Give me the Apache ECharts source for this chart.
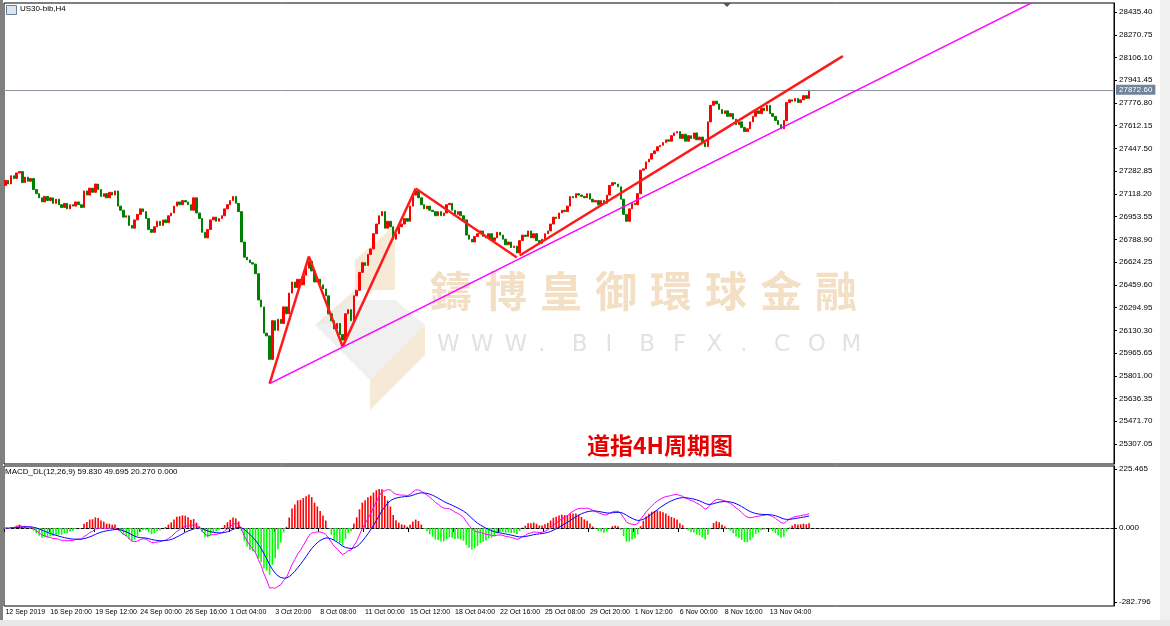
<!DOCTYPE html>
<html><head><meta charset="utf-8">
<script src="https://cdn.jsdelivr.net/npm/echarts@6/dist/echarts.min.js"></script>
<style>html,body{margin:0;padding:0;background:#fff}#c{width:1170px;height:626px}</style>
</head><body><div id="c"></div>
<script>
// ---- data ----
const firstOpen = 27180;
const closes = [27216,27190,27250,27230,27270,27280,27200,27240,27210,27230,
27150,27120,27090,27060,27100,27070,27090,27050,27080,27040,
27020,27050,27010,27040,27030,27060,27040,27020,27140,27110,
27160,27130,27190,27150,27100,27120,27090,27130,27110,27140,
27030,27000,26950,26960,26890,26870,26930,26970,27010,26990,
26940,26860,26840,26880,26920,26890,26930,26910,26960,26980,
27030,27060,27040,27070,27060,27040,27000,27090,26980,26940,
26840,26800,26860,26930,26950,26920,26940,26960,27010,27040,
27070,27100,27050,26990,26770,26660,26640,26620,26610,26540,
26350,26300,26110,26090,25920,26200,26130,26210,26180,26300,
26250,26400,26480,26440,26500,26460,26530,26580,26630,26560,
26480,26500,26460,26430,26380,26250,26200,26140,26180,26100,
26060,26250,26280,26200,26380,26420,26550,26620,26600,26680,
26720,26830,26900,26960,26990,26870,26920,26880,26790,26830,
26880,26900,26940,26920,27030,27110,27140,27090,27040,27010,
27030,27000,26990,26960,26990,26960,26980,27040,27050,27000,
26970,26990,26960,26930,26820,26790,26770,26810,26830,26850,
26810,26800,26830,26780,26800,26840,26820,26790,26750,26770,
26730,26740,26690,26780,26820,26810,26850,26800,26830,26780,
26760,26790,26830,26850,26900,26950,26940,26980,27000,26990,
27030,27100,27090,27120,27110,27100,27090,27120,27080,27060,
27070,27040,27070,27050,27110,27180,27200,27190,27170,27080,
26970,26920,27010,27050,27040,27120,27290,27300,27350,27370,
27410,27430,27460,27470,27490,27510,27500,27540,27560,27570,
27520,27550,27500,27540,27520,27560,27510,27530,27490,27460,
27640,27760,27790,27770,27730,27700,27720,27680,27700,27660,
27620,27640,27600,27570,27590,27640,27680,27720,27700,27740,
27720,27760,27700,27680,27650,27620,27590,27650,27780,27800,
27790,27810,27780,27800,27830,27810,27870];
const totalSlots = 395;
const dateLabels = ['12 Sep 2019','16 Sep 20:00','19 Sep 12:00','24 Sep 00:00','26 Sep 16:00','1 Oct 04:00','3 Oct 20:00','8 Oct 08:00','11 Oct 00:00','15 Oct 12:00','18 Oct 04:00','22 Oct 16:00','25 Oct 08:00','29 Oct 20:00','1 Nov 12:00','6 Nov 00:00','8 Nov 16:00','13 Nov 04:00'];
const priceTicks = [28435.40,28270.75,28106.10,27941.45,27776.80,27612.15,27447.50,27282.85,27118.20,26953.55,26788.90,26624.25,26459.60,26294.95,26130.30,25965.65,25801.00,25636.35,25471.70,25307.05];
const macdTicks = [225.465,0,-282.796];
const currentPrice = 27872.60;
const watermarkCn = '鑄博皇御環球金融';
const watermarkEn = 'WWW.BIBFX.COM';
// trendlines as [bar index, price]
const zigzag = [[94.3,25744],[107.8,26665],[120.3,26012],[145.9,27158],[181.9,26658]];
const redChannel = [[183.3,26672],[298.2,28116]];
const magentaLine = [[94.3,25744],[364.8,28500]];

// ---- build ----
const cats = [];
for (let i=0;i<totalSlots;i++) cats.push(i%16===0 && dateLabels[i/16] ? dateLabels[i/16] : '');
const ohlc = closes.map((c,i)=>{const o=i?closes[i-1]:firstOpen;return [o,c,Math.min(o,c),Math.max(o,c)];});
function ema(arr,n){const k=2/(n+1);const out=[];arr.forEach((v,i)=>out.push(i?out[i-1]+k*(v-out[i-1]):v));return out;}
const e12=ema(closes,12), e26=ema(closes,26);
const dif=e12.map((v,i)=>v-e26[i]);
const dea=ema(dif,9);
const hist=dif.map((v,i)=>2*(v-dea[i]));
function seg(pts){return pts.slice(1).map((p,i)=>[{coord:pts[i]},{coord:p}]);}

const font='Liberation Sans';
const wm=[];
[...watermarkCn].forEach((ch,k)=>wm.push({type:'text',z:-1,left:430+k*55,top:270,style:{text:ch,font:'bold 42px "Noto Sans CJK TC"',fill:'#f3dfc4'}}));
[...watermarkEn].forEach((ch,k)=>wm.push({type:'text',z:-1,left:437+k*33.7,top:334,style:{text:ch,font:'23px "DejaVu Sans"',fill:'#e2e2e2'}}));
const chart=echarts.init(document.getElementById('c'));
chart.setOption({
 animation:false,
 grid:[{left:4,right:56,top:3,height:461,show:true,borderColor:'#000',borderWidth:1},
       {left:4,right:56,top:466,height:140,show:true,borderColor:'#000',borderWidth:1}],
 xAxis:[{type:'category',data:cats,gridIndex:0,boundaryGap:true,axisLine:{show:false},axisTick:{show:false},axisLabel:{show:false},splitLine:{show:false}},
        {type:'category',data:cats,gridIndex:1,boundaryGap:true,position:'bottom',
         axisLine:{show:true,lineStyle:{color:'#000'}},
         axisTick:{show:true,interval:(i)=>i%16===0&&i<288,length:4,lineStyle:{color:'#000'}},
         axisLabel:{interval:(i)=>i%16===0,showMinLabel:true,hideOverlap:false,align:'left',margin:3,fontSize:7,fontFamily:font,color:'#000'},splitLine:{show:false}}],
 yAxis:[{type:'value',gridIndex:0,position:'right',min:25162,max:28501,
         axisLine:{show:true,lineStyle:{color:'#000'}},
         axisTick:{show:true,customValues:priceTicks,length:3,lineStyle:{color:'#000'}},
         axisLabel:{customValues:priceTicks,fontSize:8,fontFamily:font,color:'#000',margin:5,formatter:v=>v.toFixed(2)},
         splitLine:{show:false}},
        {type:'value',gridIndex:1,position:'right',min:-298,max:237,
         axisLine:{show:true,lineStyle:{color:'#000'}},
         axisTick:{show:true,customValues:macdTicks,length:3,lineStyle:{color:'#000'}},
         axisLabel:{customValues:macdTicks,fontSize:8,fontFamily:font,color:'#000',margin:5,formatter:v=>v.toFixed(3)},
         splitLine:{show:false}}],
 series:[
  {type:'candlestick',xAxisIndex:0,yAxisIndex:0,data:ohlc,barWidth:2,
   itemStyle:{color:'#ff0000',color0:'#008000',borderColor:'#ff0000',borderColor0:'#008000',borderWidth:1},
   markLine:{symbol:'none',silent:true,animation:false,
     data:[{yAxis:currentPrice,lineStyle:{color:'#8a949e',width:1,type:'solid'},
            label:{show:true,position:'end',formatter:currentPrice.toFixed(2),backgroundColor:'#6f8399',color:'#fff',fontSize:8,fontFamily:font,padding:[1,3],distance:2}},
       ...seg(zigzag).map(d=>{d[0].lineStyle={color:'#ff1a1a',width:2.5,type:'solid'};d[0].label={show:false};return d;}),
       ...seg(redChannel).map(d=>{d[0].lineStyle={color:'#ff1a1a',width:2.5,type:'solid'};d[0].label={show:false};return d;}),
       ...seg(magentaLine).map(d=>{d[0].lineStyle={color:'#ff00ff',width:1.6,type:'solid'};d[0].label={show:false};return d;})
     ]}},
  {type:'bar',xAxisIndex:1,yAxisIndex:1,data:hist.map(v=>({value:v,itemStyle:{color:v>=0?'#ff0000':'#00ff00'}})),barWidth:1.6,
   markLine:{symbol:'none',silent:true,data:[{yAxis:0}],lineStyle:{color:'#888',type:[2,3],width:1},label:{show:false}}},
  {type:'line',xAxisIndex:1,yAxisIndex:1,data:dif,showSymbol:false,lineStyle:{color:'#ff00ff',width:1}},
  {type:'line',xAxisIndex:1,yAxisIndex:1,data:dea,showSymbol:false,lineStyle:{color:'#0000ff',width:1}}
 ],
 graphic:[
  {type:'rect',left:0,top:0,shape:{width:3,height:626},style:{fill:'#808080'}},
  {type:'rect',left:6,top:5,shape:{width:10,height:9},style:{fill:'#dde6f0',stroke:'#6a7f96'}},
  {type:'text',left:20,top:5,style:{text:'US30-bib,H4',font:'8px Liberation Sans',fill:'#000'}},
  {type:'polygon',shape:{points:[[723,3],[731,3],[727,7]]},style:{fill:'#555'}},
  {type:'text',left:5,top:468,style:{text:'MACD_DL(12,26,9) 59.830 49.695 20.270 0.000',font:'8px Liberation Sans',fill:'#000'}},
  {type:'polygon',z:-1,shape:{points:[[315,325],[355,290],[395,290],[395,225],[355,260],[355,320]]},style:{fill:'#f6ead7'}},
  {type:'polygon',z:-1,shape:{points:[[315,325],[350,300],[395,300],[425,325],[370,380],[340,350]]},style:{fill:'#ececec',opacity:0.8}},
  {type:'polygon',z:-1,shape:{points:[[370,380],[425,325],[425,355],[370,410]]},style:{fill:'#f6ead7'}},
  ...wm,
  {type:'text',left:587,top:434,style:{text:'道指4H周期图',font:'bold 23px "Noto Sans CJK SC"',fill:'#e60000'}},
  {type:'rect',left:1160,top:0,shape:{width:10,height:626},style:{fill:'#f0f0f0'}},
  {type:'rect',left:0,top:620,shape:{width:1170,height:6},style:{fill:'#e8e8e8'}}
 ]
});
</script></body></html>
